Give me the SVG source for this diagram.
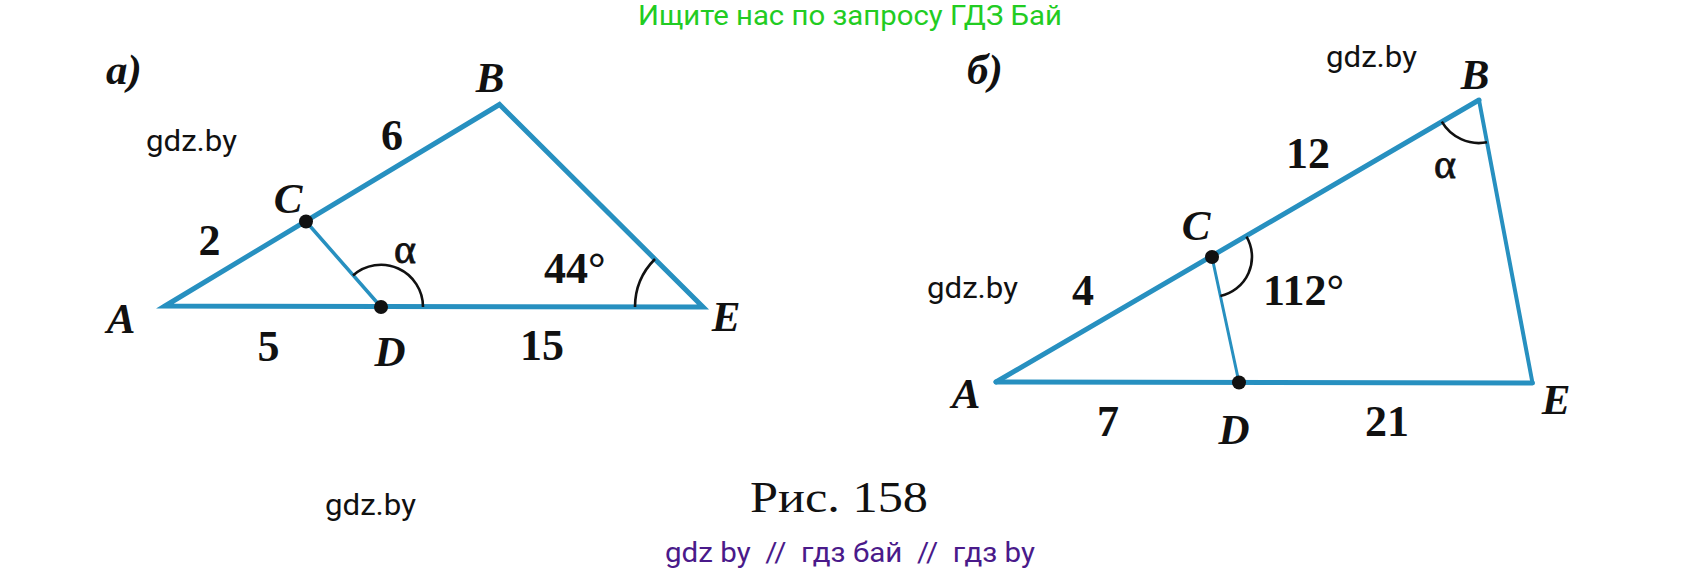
<svg xmlns="http://www.w3.org/2000/svg" width="1702" height="572" viewBox="0 0 1702 572">
<style>
.bg{fill:#ffffff}
.side{stroke:#2790c0;fill:none;stroke-linejoin:miter;stroke-linecap:round}
.arc{stroke:#111111;fill:none;stroke-width:2.6}
.dot{fill:#111111}
.pt{font-family:"Liberation Serif",serif;font-weight:bold;font-style:italic;font-size:43px;fill:#111111}
.num{font-family:"Liberation Serif",serif;font-weight:bold;font-size:44px;fill:#111111}
.alpha{font-family:"Liberation Serif",serif;font-size:42px;fill:#111111;stroke:#111111;stroke-width:0.8}
.wm{font-family:Roboto,"Liberation Sans",sans-serif;font-size:29px;fill:#111111}
.cap{font-family:"Liberation Serif",serif;font-size:45px;fill:#111111}
.green{font-family:Roboto,"Liberation Sans",sans-serif;font-size:28px;fill:#22cc22}
.purple{font-family:Roboto,"Liberation Sans",sans-serif;font-size:28px;fill:#4a1a8a}
</style>
<rect class="bg" x="0" y="0" width="1702" height="572"/>

<g id="watermarks">
<text class="green" x="850" y="25" text-anchor="middle" textLength="424" lengthAdjust="spacingAndGlyphs">Ищите нас по запросу ГДЗ Бай</text>
<text class="wm" x="146" y="151" textLength="91" lengthAdjust="spacingAndGlyphs">gdz.by</text>
<text class="wm" x="1326" y="67" textLength="91" lengthAdjust="spacingAndGlyphs">gdz.by</text>
<text class="wm" x="927" y="298" textLength="91" lengthAdjust="spacingAndGlyphs">gdz.by</text>
<text class="wm" x="325" y="515" textLength="91" lengthAdjust="spacingAndGlyphs">gdz.by</text>
<text class="purple" x="665" y="562" textLength="370" lengthAdjust="spacingAndGlyphs" xml:space="preserve">gdz by  //  гдз бай  //  гдз by</text>
</g>

<g id="caption">
<text class="cap" x="750" y="512" textLength="178" lengthAdjust="spacingAndGlyphs">Рис. 158</text>
</g>

<g id="connectors">
<!-- figure a -->
<path class="side" stroke-width="5" d="M165,306 L499.5,104.5 L703,307 Z"/>
<line class="side" stroke-width="3.5" x1="306" y1="221.5" x2="381" y2="307"/>
<!-- figure b -->
<line class="side" stroke-width="5" x1="996" y1="382" x2="1479" y2="100"/>
<line class="side" stroke-width="4" x1="1479" y1="100" x2="1532.5" y2="383"/>
<line class="side" stroke-width="5" x1="996" y1="382" x2="1532.5" y2="383"/>
<line class="side" stroke-width="3" x1="1212" y1="257" x2="1239" y2="382.5"/>
</g>

<g id="angles">
<path class="arc" d="M353,275.5 A42,42 0 0 1 423,307"/>
<path class="arc" d="M635,307 A68,68 0 0 1 655,259"/>
<path class="arc" d="M1246.5,236.7 A40,40 0 0 1 1220.4,296"/>
<path class="arc" d="M1441.8,121.7 A43,43 0 0 0 1487,142.3"/>
</g>

<g id="figA">
<text class="pt" x="106" y="84">а)</text>
<g id="a-A"><text class="pt" x="121" y="333" text-anchor="middle">A</text></g>
<g id="a-B"><text class="pt" x="490" y="92" text-anchor="middle">B</text></g>
<g id="a-C"><circle class="dot" cx="306" cy="221.5" r="7"/><text class="pt" x="288" y="213" text-anchor="middle">C</text></g>
<g id="a-D"><circle class="dot" cx="381" cy="307" r="7"/><text class="pt" x="390" y="366" text-anchor="middle">D</text></g>
<g id="a-E"><text class="pt" x="726" y="331" text-anchor="middle">E</text></g>
<text class="num" x="392" y="150" text-anchor="middle">6</text>
<text class="num" x="209.5" y="255" text-anchor="middle">2</text>
<text class="num" x="268.5" y="361" text-anchor="middle">5</text>
<text class="num" x="542" y="360" text-anchor="middle">15</text>
<text class="num" x="544" y="283">44°</text>
<text class="alpha" x="405" y="263" text-anchor="middle">α</text>
</g>

<g id="figB">
<text class="pt" x="967" y="84">б)</text>
<g id="b-A"><text class="pt" x="966" y="408" text-anchor="middle">A</text></g>
<g id="b-B"><text class="pt" x="1475" y="89" text-anchor="middle">B</text></g>
<g id="b-C"><circle class="dot" cx="1212" cy="257" r="7"/><text class="pt" x="1196" y="240" text-anchor="middle">C</text></g>
<g id="b-D"><circle class="dot" cx="1239" cy="382.5" r="7"/><text class="pt" x="1234" y="444" text-anchor="middle">D</text></g>
<g id="b-E"><text class="pt" x="1556" y="414" text-anchor="middle">E</text></g>
<text class="num" x="1308" y="168" text-anchor="middle">12</text>
<text class="num" x="1083" y="305" text-anchor="middle">4</text>
<text class="num" x="1108" y="436" text-anchor="middle">7</text>
<text class="num" x="1387" y="436" text-anchor="middle">21</text>
<text class="num" x="1263" y="305">112°</text>
<text class="alpha" x="1445" y="178" text-anchor="middle">α</text>
</g>
</svg>
